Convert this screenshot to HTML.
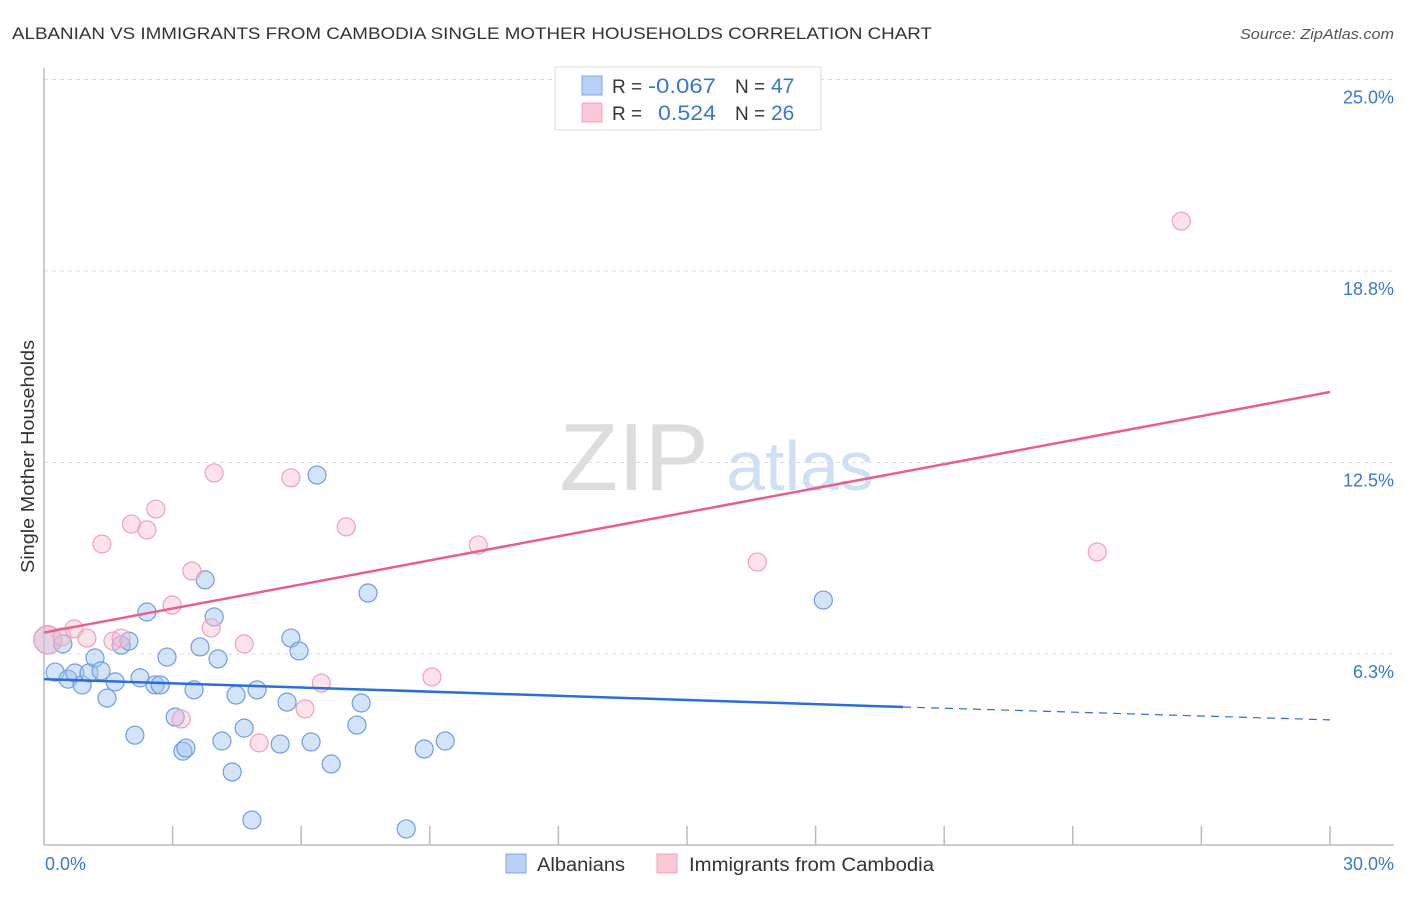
<!DOCTYPE html>
<html><head><meta charset="utf-8"><style>
body{margin:0;background:#fff;font-family:"Liberation Sans",sans-serif}
svg text{font-family:"Liberation Sans",sans-serif}
</style></head><body>
<svg id="chart" width="1406" height="892" xmlns="http://www.w3.org/2000/svg">
<text x="12" y="39" font-size="17" fill="#333" textLength="920" lengthAdjust="spacingAndGlyphs">ALBANIAN VS IMMIGRANTS FROM CAMBODIA SINGLE MOTHER HOUSEHOLDS CORRELATION CHART</text>
<text x="1240" y="39" font-size="15" fill="#555" font-style="italic" textLength="154" lengthAdjust="spacingAndGlyphs">Source: ZipAtlas.com</text>
<g id="grid"></g>
<g>
<text x="634" y="490" font-size="96" fill="#ddd" text-anchor="middle" font-family="Liberation Serif,serif">ZIP</text>
<text x="800" y="490" font-size="70" fill="#cfe0f5" text-anchor="middle">atlas</text>
</g>
<line x1="44" y1="68" x2="44" y2="845" stroke="#bbb" stroke-width="1.5"/>
<line x1="44" y1="845" x2="1394" y2="845" stroke="#bbb" stroke-width="1.5"/>
<g id="ticks"></g>
<g id="marks"></g>
<text transform="translate(34,573) rotate(-90)" font-size="18" fill="#333" textLength="233" lengthAdjust="spacingAndGlyphs">Single Mother Households</text>
<text x="45" y="870" font-size="18" fill="#3a78d0">0.0%</text>
<text x="1394" y="870" font-size="18" fill="#3a78d0" text-anchor="end">30.0%</text>
<g>
<rect x="555" y="67" width="266" height="63" fill="#fff" stroke="#ddd"/>
<rect x="582" y="76" width="20" height="19" fill="#b8d2f5" stroke="#7ea6e0"/>
<rect x="582" y="103" width="20" height="19" fill="#fbc8d6" stroke="#f0a0b8"/>
<text x="612" y="93" font-size="19" fill="#333">R = </text><text x="648" y="93" font-size="21" fill="#3a78d0" textLength="68" lengthAdjust="spacingAndGlyphs">-0.067</text>
<text x="735" y="93" font-size="19" fill="#333">N = </text><text x="771" y="93" font-size="21" fill="#3a78d0">47</text>
<text x="612" y="120" font-size="19" fill="#333">R = </text><text x="658" y="120" font-size="21" fill="#3a78d0" textLength="58" lengthAdjust="spacingAndGlyphs">0.524</text>
<text x="735" y="120" font-size="19" fill="#333">N = </text><text x="771" y="120" font-size="21" fill="#3a78d0">26</text>
</g>
<g>
<rect x="506" y="854" width="20" height="19" fill="#b8d2f5" stroke="#7ea6e0"/>
<text x="537" y="871" font-size="19" fill="#333" textLength="88" lengthAdjust="spacingAndGlyphs">Albanians</text>
<rect x="657" y="854" width="20" height="19" fill="#fbc8d6" stroke="#f0a0b8"/>
<text x="689" y="871" font-size="19" fill="#333" textLength="245" lengthAdjust="spacingAndGlyphs">Immigrants from Cambodia</text>
</g>
</svg>
<script>
const yTicks=[6.25,12.5,18.75,25];
const yTickLabels=["6.3%","12.5%","18.8%","25.0%"];
const xTicks=[3,6,9,12,15,18,21,24,27,30];
const albX=[0.09,0.44,0.26,0.56,0.72,0.89,1.05,1.19,1.33,1.47,1.66,1.80,1.98,2.12,2.24,2.40,2.59,2.71,2.87,3.06,3.24,3.31,3.50,3.64,3.76,3.97,4.06,4.15,4.39,4.48,4.67,4.85,4.97,5.51,5.67,5.76,5.95,6.23,6.37,6.70,7.30,7.40,7.56,8.45,8.87,9.36,18.18];
const albY=[6.71,6.58,5.66,5.43,5.63,5.24,5.63,6.12,5.70,4.81,5.34,6.54,6.67,3.60,5.47,7.62,5.24,5.24,6.15,4.19,3.08,3.18,5.08,6.48,8.67,7.46,6.09,3.41,2.40,4.91,3.83,0.83,5.08,3.31,4.68,6.77,6.35,3.38,12.09,2.66,3.93,4.65,8.24,0.54,3.15,3.41,8.01];
const camX=[0.09,0.42,0.70,1.00,1.35,1.61,1.80,2.04,2.40,2.61,2.99,3.45,3.90,3.97,4.67,5.02,5.76,6.09,6.47,7.05,9.05,10.13,16.64,24.57,26.53,3.20];
const camY=[6.71,6.81,7.07,6.77,9.84,6.67,6.77,10.49,10.30,10.98,7.85,8.96,7.10,12.16,6.58,3.35,12.00,4.46,5.30,10.40,5.50,9.81,9.25,9.58,20.38,4.13];
const albTrend=[5.43,4.52,4.10];
const albTrendX=[0,20.04,30];
const camTrend=[6.95,14.80];
const camTrendX=[0,30];
const X=v=>44+v/30*1286;
const Y=v=>845.5-v/6.25*191.5;
const NS="http://www.w3.org/2000/svg";
function mk(tag,attrs,parent){const e=document.createElementNS(NS,tag);for(const k in attrs)e.setAttribute(k,attrs[k]);document.getElementById(parent).appendChild(e);return e;}
yTicks.forEach((t,i)=>{
 const l=mk('line',{x1:44,x2:1394,y1:Y(t),y2:Y(t),stroke:'#ddd','stroke-dasharray':'4,4'},'grid');
 
 
 const tx=mk('text',{x:1394,y:Y(t)+24,'font-size':18,fill:'#3a78d0','text-anchor':'end'},'grid');
 tx.textContent=yTickLabels[i];
 
 
});
xTicks.forEach(t=>{
 const l=mk('line',{x1:X(t),x2:X(t),y1:826,y2:845,stroke:'#bbb','stroke-width':1.5},'ticks');
 
 
});
albX.forEach((x,i)=>{
 const c=mk('circle',{cx:X(x),cy:Y(albY[i]),r:i==0?14:9,fill:'rgba(160,195,240,0.45)',stroke:'#6f9de0','stroke-width':1.2},'marks');
 
 
});
camX.forEach((x,i)=>{
 const c=mk('circle',{cx:X(x),cy:Y(camY[i]),r:i==0?14:9,fill:'rgba(248,185,205,0.4)',stroke:'#f0a0b8','stroke-width':1.2},'marks');
 
 
});
const b1=mk('line',{x1:X(albTrendX[0]),y1:Y(albTrend[0]),x2:X(albTrendX[1]),y2:Y(albTrend[1]),stroke:'#2b6fd6','stroke-width':2.5},'marks');


const b2=mk('line',{x1:X(albTrendX[1]),y1:Y(albTrend[1]),x2:X(albTrendX[2]),y2:Y(albTrend[2]),stroke:'#2b6fd6','stroke-width':1.2,'stroke-dasharray':'8,6'},'marks');


const p1=mk('line',{x1:X(camTrendX[0]),y1:Y(camTrend[0]),x2:X(camTrendX[1]),y2:Y(camTrend[1]),stroke:'#e8608a','stroke-width':2.5},'marks');


</script>
</body></html>
